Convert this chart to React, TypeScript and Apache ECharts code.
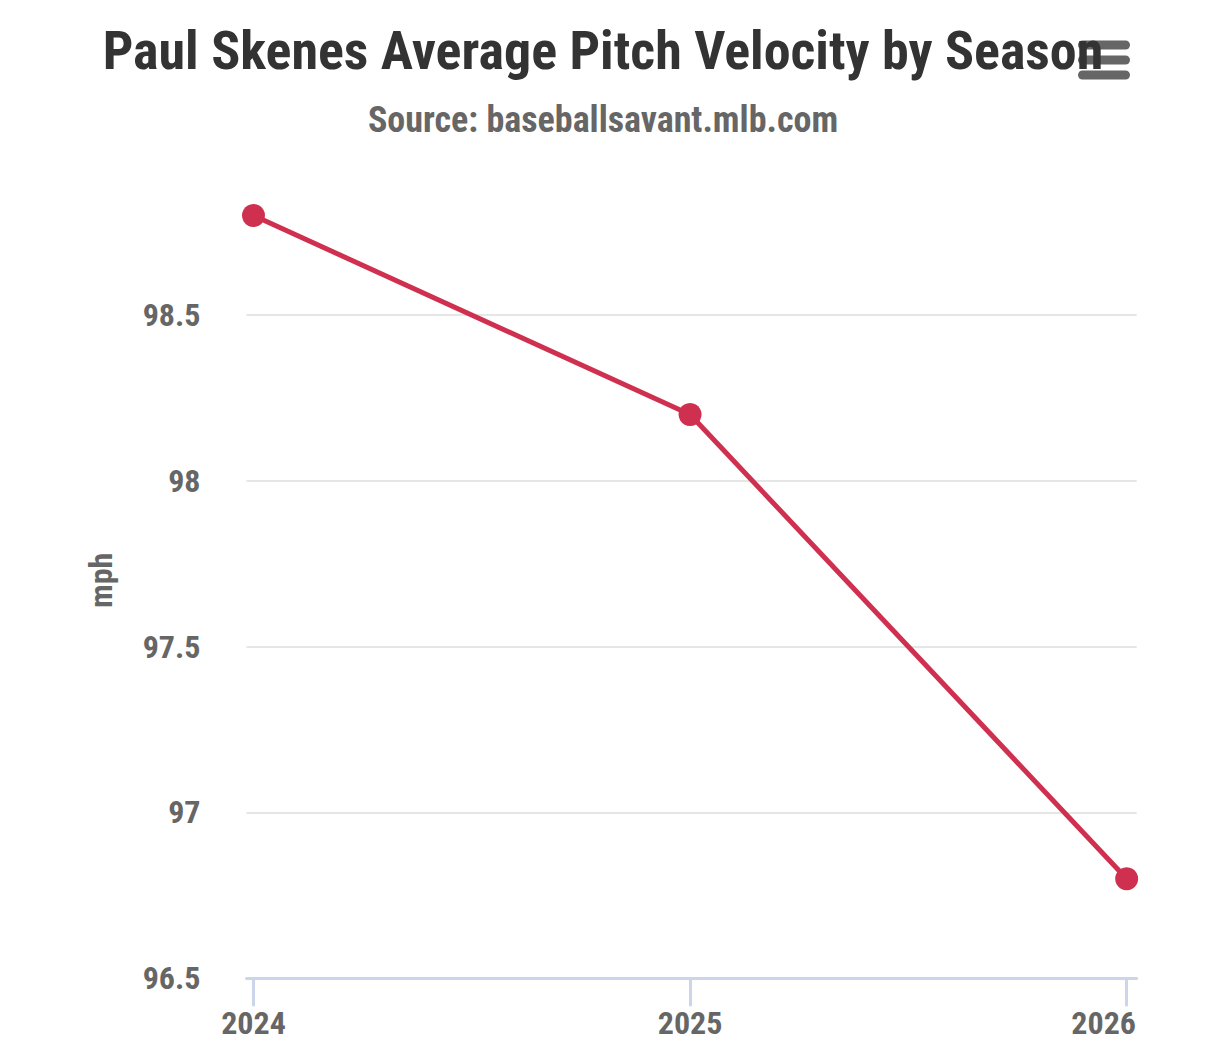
import React, { useEffect, useRef } from "react";
import * as echarts from "echarts";

const titleText = "Paul Skenes Average Pitch Velocity by Season";
const subtitleText = "Source: baseballsavant.mlb.com";
const seasons = [2024, 2025, 2026];
const velocity = [98.8, 98.2, 96.8];
const yTicks = [96.5, 97, 97.5, 98, 98.5];
const yAxisName = "mph";

const FONT = "'Roboto Condensed', 'Liberation Sans Narrow', 'DejaVu Sans Condensed', Roboto, sans-serif";

export default function App() {
  const ref = useRef<HTMLDivElement>(null);
  useEffect(() => {
    document.body.style.margin = "0";
    const chart = echarts.init(ref.current!, null, { renderer: "svg" });
    const labelStyle = { fontFamily: FONT, fontSize: 32, fontWeight: "bold", color: "#666666" };
    const lastSeason = seasons[seasons.length - 1];
    chart.setOption({
      animation: false,
      backgroundColor: "#ffffff",
      title: [
        {
          text: titleText,
          left: "center",
          top: 18,
          z: 10,
          textStyle: { fontFamily: FONT, fontSize: 54, fontWeight: "bold", color: "#333333" },
        },
        {
          text: subtitleText,
          left: "center",
          top: 97,
          z: 10,
          textStyle: { fontFamily: FONT, fontSize: 36, fontWeight: "bold", color: "#666666" },
        },
      ],
      graphic: [
        { type: "rect", z: 1, shape: { x: 1078, y: 40.5, width: 52, height: 9, r: 4.5 }, style: { fill: "#666666" } },
        { type: "rect", z: 1, shape: { x: 1078, y: 55.5, width: 52, height: 9, r: 4.5 }, style: { fill: "#666666" } },
        { type: "rect", z: 1, shape: { x: 1078, y: 70.5, width: 52, height: 9, r: 4.5 }, style: { fill: "#666666" } },
      ],
      grid: { left: 246.5, right: 1206 - 1136.7, top: 182.4, bottom: 1064 - 978.3, containLabel: false },
      xAxis: {
        type: "value",
        min: 2023.984,
        max: 2026.023,
        splitLine: { show: false },
        axisLine: { show: true, lineStyle: { color: "#ccd6eb", width: 3 } },
        axisTick: { show: true, customValues: seasons, length: 28, lineStyle: { color: "#ccd6eb", width: 3 } },
        axisLabel: {
          customValues: seasons,
          margin: 29,
          formatter: (v: number) => (v === lastSeason ? `{last|${v}}` : String(v)),
          ...labelStyle,
          rich: { last: { ...labelStyle, padding: [0, 46, 0, 0] } },
        },
      },
      yAxis: {
        type: "value",
        min: 96.5,
        max: 98.9,
        interval: 0.5,
        name: yAxisName,
        nameLocation: "middle",
        nameGap: 130,
        nameTextStyle: labelStyle,
        axisLine: { show: false },
        axisTick: { show: false },
        splitLine: { show: true, showMinLine: false, showMaxLine: false, lineStyle: { color: "#e6e6e6", width: 2 } },
        axisLabel: {
          customValues: yTicks,
          margin: 46,
          formatter: (v: number) => String(v),
          ...labelStyle,
        },
      },
      series: [
        {
          type: "line",
          data: seasons.map((s, i) => [s, velocity[i]]),
          symbol: "circle",
          symbolSize: 23,
          lineStyle: { color: "#d0304f", width: 5 },
          itemStyle: { color: "#d0304f" },
          z: 5,
        },
      ],
    });
    return () => chart.dispose();
  }, []);
  return <div ref={ref} style={{ width: 1206, height: 1064 }} />;
}
